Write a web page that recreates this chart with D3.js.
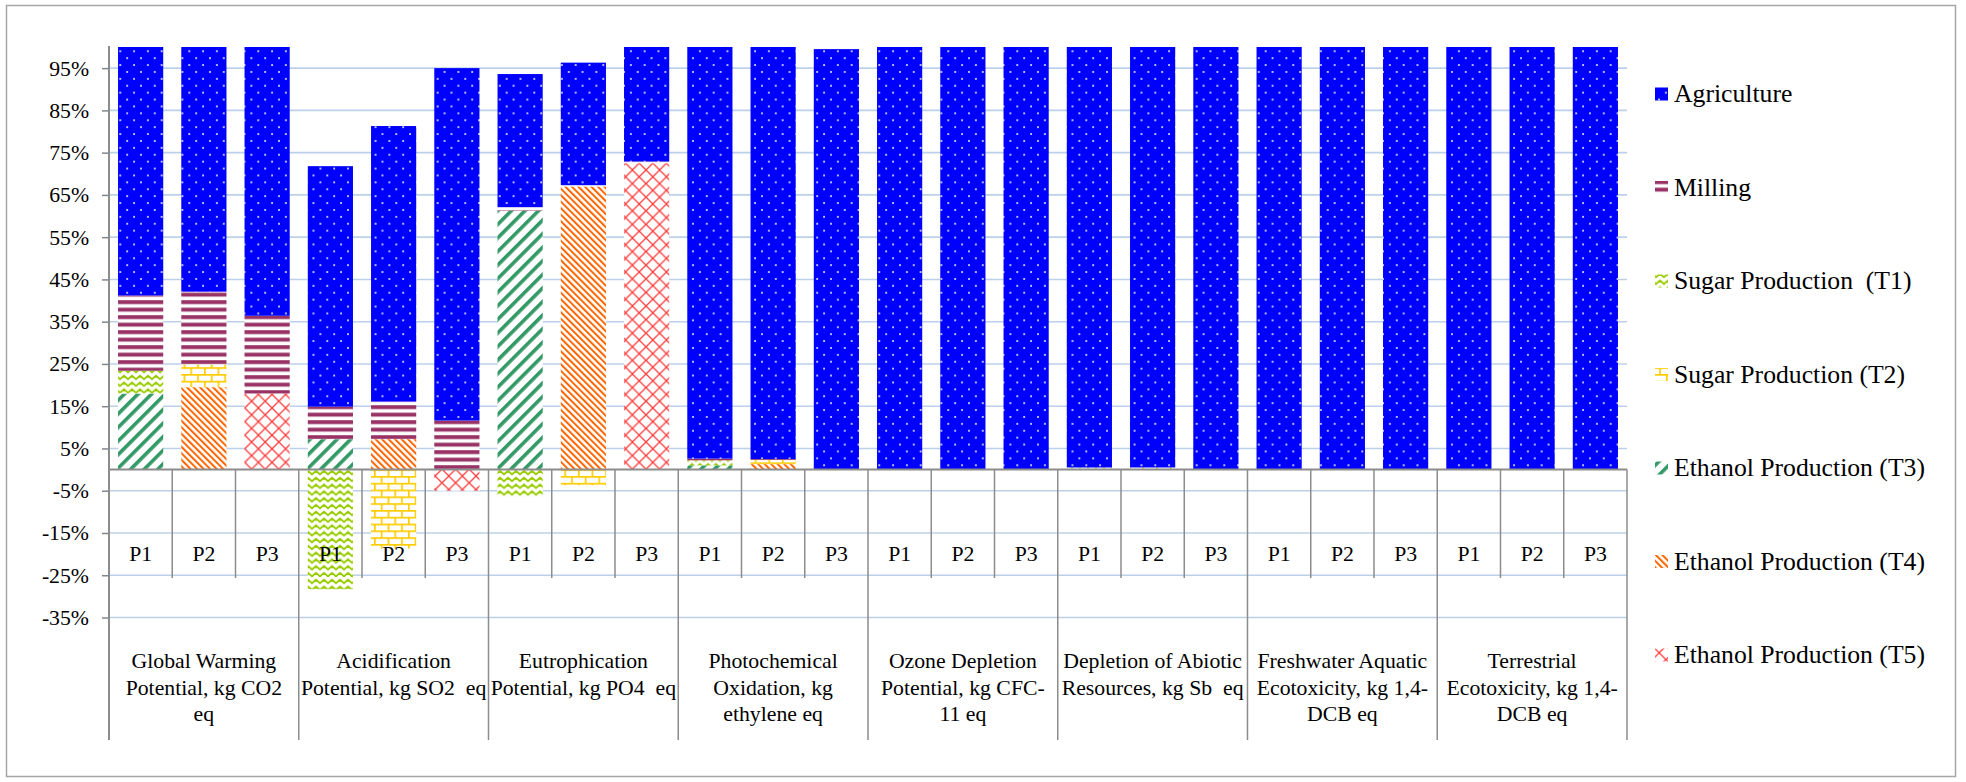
<!DOCTYPE html>
<html>
<head>
<meta charset="utf-8">
<script src="https://cdn.jsdelivr.net/npm/d3@7"></script>
<style>
  html, body { margin: 0; padding: 0; background: #fff; }
  svg { display: block; }
</style>
</head>
<body>
<svg id="chart" width="1966" height="782"></svg>
<script>
// Impact categories (wrapped as drawn under the axis) and scenarios
const categoryLines = [
  ["Global Warming", "Potential, kg CO2", "eq"],
  ["Acidification", "Potential, kg SO2  eq"],
  ["Eutrophication", "Potential, kg PO4  eq"],
  ["Photochemical", "Oxidation, kg", "ethylene eq"],
  ["Ozone Depletion", "Potential, kg CFC-", "11 eq"],
  ["Depletion of Abiotic", "Resources, kg Sb  eq"],
  ["Freshwater Aquatic", "Ecotoxicity, kg 1,4-", "DCB eq"],
  ["Terrestrial", "Ecotoxicity, kg 1,4-", "DCB eq"]
];
const scenarios = ["P1", "P2", "P3"];

// Share of each process stage (%), one value per category x scenario
const agriculture = [58.8, 57.9, 63.6,  56.9, 65.2, 83.4,  31.5, 29.0, 27.1,  97.4, 97.5, 99.5,  100, 100, 100,  99.5, 99.5, 100,  100, 100, 100,  100, 100, 100];
const milling     = [17.8, 17.2, 18.4,   7.7,  8.9, 11.6,   0.8,  0.3,  0.4,   0.4,  0.2,  0,     0,   0,   0,    0,    0,    0,    0,   0,   0,    0,   0,   0];
const sugarT1     = [ 5.4,  0,    0,   -28.3,  0,    0,    -6.4,  0,    0,     1.2,  0,    0,     0,   0,   0,    0.4,  0,    0,    0,   0,   0,    0,   0,   0];
const sugarT2     = [ 0,    5.4,  0,     0,  -18.7,  0,     0,   -3.7,  0,     0,    1.0,  0,     0,   0,   0,    0,    0.4,  0,    0,   0,   0,    0,   0,   0];
const ethanolT3   = [18.0,  0,    0,     7.2,  0,    0,    61.3,  0,    0,     1.0,  0,    0,     0,   0,   0,    0.1,  0,    0,    0,   0,   0,    0,   0,   0];
const ethanolT4   = [ 0,   19.5,  0,     0,    7.2,  0,     0,   67.0,  0,     0,    1.3,  0,     0,   0,   0,    0,    0.1,  0,    0,   0,   0,    0,   0,   0];
const ethanolT5   = [ 0,    0,   18.0,   0,    0,   -5.0,   0,    0,   72.5,   0,    0,    0,     0,   0,   0,    0,    0,    0,    0,   0,   0,    0,   0,   0];

const seriesNames = ["Agriculture", "Milling", "Sugar Production  (T1)", "Sugar Production (T2)",
                     "Ethanol Production (T3)", "Ethanol Production (T4)", "Ethanol Production (T5)"];
const seriesValues = [agriculture, milling, sugarT1, sugarT2, ethanolT3, ethanolT4, ethanolT5];
const yTicks = [-35, -25, -15, -5, 5, 15, 25, 35, 45, 55, 65, 75, 85, 95];

// Font: first installed serif face; sizes fitted to the label widths
const ctx = document.createElement("canvas").getContext("2d");
function installed(f) {
  const s = "Global Warming Potential 0123456789%";
  ctx.font = `40px "${f}", monospace`; const a = ctx.measureText(s).width;
  ctx.font = `40px "${f}", sans-serif`; const b = ctx.measureText(s).width;
  return Math.abs(a - b) < 0.01;
}
const face = ["Liberation Serif", "Tinos", "Times New Roman", "DejaVu Serif"].find(installed);
const FONT = face ? `"${face}", serif` : "serif";
function fitSize(sample, target) {
  ctx.font = `100px ${FONT}`;
  return +(target / ctx.measureText(sample).width * 100).toFixed(2);
}
const AXIS_SIZE = fitSize("Global Warming", 145);
const LEGEND_SIZE = fitSize("Ethanol Production (T5)", 251);

// Build table rows
const rows = [];
categoryLines.forEach((c, gi) => {
  scenarios.forEach((s, si) => {
    const i = gi * 3 + si;
    const row = { key: gi + "|" + s, group: gi, scenario: s };
    seriesNames.forEach((n, k) => { row[n] = seriesValues[k][i]; });
    rows.push(row);
  });
});

const svg = d3.select("#chart");
const plot = { left: 109, right: 1627, top: 47, bottom: 617.5 };

// Frame
svg.append("rect").attr("x", 6.5).attr("y", 5.5).attr("width", 1949).attr("height", 771)
  .attr("fill", "#fff").attr("stroke", "#a6a6a6").attr("stroke-width", 1.5);

// Fill patterns
const defs = svg.append("defs");
const pat = (id, w, h, tr) => {
  const p = defs.append("pattern").attr("id", id).attr("patternUnits", "userSpaceOnUse")
    .attr("width", w).attr("height", h);
  if (tr) p.attr("patternTransform", tr);
  return p;
};
// Agriculture: blue with white dots
let p = pat("pAgri", 13.8, 13.8);
p.append("rect").attr("width", 13.8).attr("height", 13.8).attr("fill", "#0000ff");
p.append("circle").attr("cx", 3).attr("cy", 3).attr("r", 0.95).attr("fill", "#fff");
p.append("circle").attr("cx", 9.9).attr("cy", 9.9).attr("r", 0.95).attr("fill", "#fff");
// Milling: wide horizontal stripes
p = pat("pMill", 10, 7.5);
p.append("rect").attr("width", 10).attr("height", 7.5).attr("fill", "#fff");
p.append("rect").attr("y", 0.2).attr("width", 10).attr("height", 3.9).attr("fill", "#993366");
// Sugar T1: zig zag
p = pat("pT1", 8, 6.8);
p.append("rect").attr("width", 8).attr("height", 6.8).attr("fill", "#fff");
p.append("path").attr("d", "M-1,4.6 L0,5.2 L4,1.8 L8,5.2 L9,4.6").attr("fill", "none")
  .attr("stroke", "#99cc00").attr("stroke-width", 1.9);
// Sugar T2: horizontal brick
p = pat("pT2", 13.6, 13.6);
p.append("rect").attr("width", 13.6).attr("height", 13.6).attr("fill", "#fff");
p.append("path").attr("d", "M0,0.8 H13.6 M0,7.6 H13.6 M0.8,0.8 V7.6 M7.6,7.6 V14.4")
  .attr("fill", "none").attr("stroke", "#ffcc00").attr("stroke-width", 1.7);
// Ethanol T3: wide upward diagonal
p = pat("pT3", 9.6, 9.6, "rotate(45)");
p.append("rect").attr("width", 9.6).attr("height", 9.6).attr("fill", "#fff");
p.append("rect").attr("width", 3.6).attr("height", 9.6).attr("fill", "#339966");
// Ethanol T4: downward diagonal
p = pat("pT4", 4.6, 4.6, "rotate(-45)");
p.append("rect").attr("width", 4.6).attr("height", 4.6).attr("fill", "#fff");
p.append("rect").attr("width", 2.0).attr("height", 4.6).attr("fill", "#ff6600");
// Ethanol T5: outlined diamonds
p = pat("pT5", 13.6, 13.6);
p.append("rect").attr("width", 13.6).attr("height", 13.6).attr("fill", "#fff");
p.append("path").attr("d", "M0,0 L13.6,13.6 M13.6,0 L0,13.6").attr("fill", "none")
  .attr("stroke", "#ff3b3b").attr("stroke-width", 1.3);

const fills = {
  "Agriculture": "url(#pAgri)",
  "Milling": "url(#pMill)",
  "Sugar Production  (T1)": "url(#pT1)",
  "Sugar Production (T2)": "url(#pT2)",
  "Ethanol Production (T3)": "url(#pT3)",
  "Ethanol Production (T4)": "url(#pT4)",
  "Ethanol Production (T5)": "url(#pT5)"
};

// Scales
const x = d3.scaleBand().domain(rows.map(r => r.key))
  .range([plot.left, plot.right]).paddingInner(0.2857).paddingOuter(0.1429);
const y = d3.scaleLinear().domain([-35, 100]).range([plot.bottom, plot.top]);
const step = x.step();

// Gridlines
svg.append("g").selectAll("line").data(yTicks).join("line")
  .attr("x1", plot.left).attr("x2", plot.right)
  .attr("y1", d => y(d)).attr("y2", d => y(d))
  .attr("stroke", "#bcd0ea").attr("stroke-width", 1.6);

// Stacked bars (bottom-to-top stacking order)
const stackKeys = seriesNames.slice().reverse();
const stacked = d3.stack().keys(stackKeys).offset(d3.stackOffsetDiverging)(rows);
svg.append("g").selectAll("g").data(stacked).join("g")
  .attr("fill", d => fills[d.key])
  .selectAll("rect").data(d => d.filter(s => s[1] !== s[0])).join("rect")
  .attr("x", d => x(d.data.key))
  .attr("width", x.bandwidth())
  .attr("y", d => y(Math.max(d[0], d[1])))
  .attr("height", d => Math.abs(y(d[0]) - y(d[1])));

// Value axis
const yAxis = svg.append("g").attr("transform", `translate(${plot.left},0)`)
  .call(d3.axisLeft(y).tickValues(yTicks).tickSize(7).tickSizeOuter(0).tickPadding(13)
    .tickFormat(d => d + "%"));
yAxis.attr("font-family", FONT).attr("font-size", AXIS_SIZE);
yAxis.select(".domain").remove();
yAxis.selectAll(".tick line").attr("stroke", "#868686").attr("stroke-width", 1.5);
yAxis.selectAll(".tick text").attr("fill", "#000");

const axisColor = "#8c8c8c";
const zeroY = y(0);
const pBottom = 578;
const gBottom = 740;
// vertical axis line
svg.append("line").attr("x1", plot.left).attr("x2", plot.left).attr("y1", plot.top - 1).attr("y2", gBottom)
  .attr("stroke", axisColor).attr("stroke-width", 2);
// category axis line at zero
svg.append("line").attr("x1", plot.left).attr("x2", plot.right).attr("y1", zeroY).attr("y2", zeroY)
  .attr("stroke", axisColor).attr("stroke-width", 2);
// dividers between scenarios and between categories
const dividers = d3.range(1, rows.length + 1);
svg.append("g").selectAll("line").data(dividers).join("line")
  .attr("x1", i => plot.left + i * step).attr("x2", i => plot.left + i * step)
  .attr("y1", zeroY).attr("y2", i => (i % 3 === 0 ? gBottom : pBottom))
  .attr("stroke", axisColor).attr("stroke-width", 1.5);

// scenario labels
svg.append("g").attr("font-family", FONT).attr("font-size", AXIS_SIZE)
  .selectAll("text").data(rows).join("text")
  .attr("x", d => x(d.key) + x.bandwidth() / 2).attr("y", 561)
  .attr("text-anchor", "middle").attr("fill", "#000")
  .text(d => d.scenario);

// category labels
const catG = svg.append("g").attr("font-family", FONT).attr("font-size", AXIS_SIZE);
categoryLines.forEach((lines, gi) => {
  const cx = plot.left + (gi * 3 + 1.5) * step;
  const t = catG.append("text").attr("text-anchor", "middle").attr("fill", "#000")
    .attr("xml:space", "preserve").style("white-space", "pre");
  lines.forEach((ln, li) => {
    t.append("tspan").attr("x", cx).attr("y", 668 + li * 26.7).text(ln);
  });
});

// Legend
const legend = svg.append("g").attr("font-family", FONT).attr("font-size", LEGEND_SIZE);
seriesNames.forEach((n, i) => {
  const cy = 94 + i * 93.5;
  legend.append("rect").attr("x", 1655).attr("y", cy - 6.5).attr("width", 13).attr("height", 13)
    .attr("fill", fills[n]);
  legend.append("text").attr("x", 1674).attr("y", cy).attr("dy", "0.32em").attr("fill", "#000")
    .attr("xml:space", "preserve").style("white-space", "pre").text(n);
});
</script>
</body>
</html>
